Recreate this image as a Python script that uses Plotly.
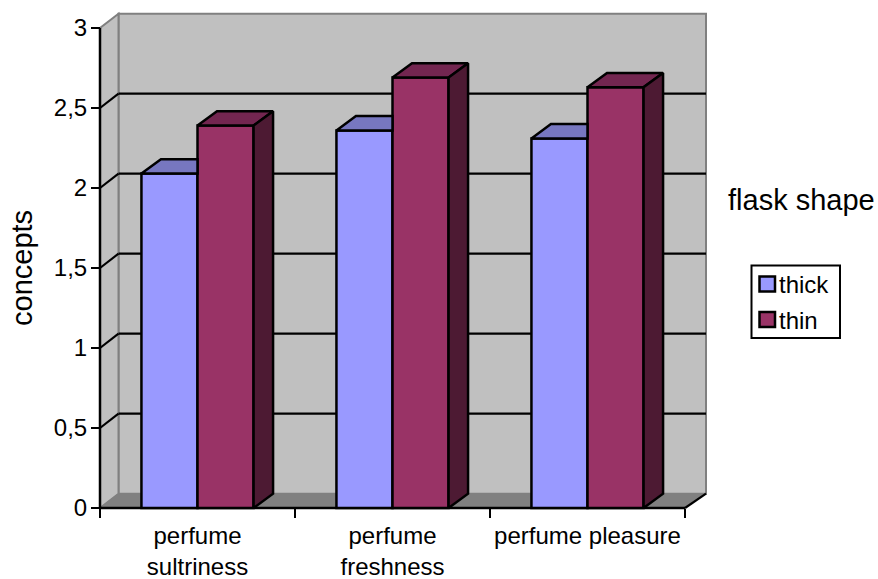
import plotly.graph_objects as go

categories = ["perfume<br>sultriness", "perfume<br>freshness", "perfume pleasure"]
series_names = ["thick", "thin"]
thick = [2.09, 2.36, 2.31]
thin = [2.39, 2.69, 2.63]
y_ticks = [0, 0.5, 1, 1.5, 2, 2.5, 3]
y_labels = ["0", "0,5", "1", "1,5", "2", "2,5", "3"]
x_pos = [0, 1, 2]
x_edges = [-0.5, 0.5, 1.5, 2.5]

# pixel scale of the plot: 195 px per category, 160 px per y unit
PX, PY = 195.0, 160.0
W, H = 878, 579
LEFT, RIGHT, TOP, BOTTOM = 90, 716, 4, 518
X0_PX, Y0_PX = 100, 508
xr = [-0.5 - (X0_PX - LEFT) / PX, -0.5 + (RIGHT - X0_PX) / PX]
yr = [-(BOTTOM - Y0_PX) / PY, (Y0_PX - TOP) / PY]
pw, ph = RIGHT - LEFT, BOTTOM - TOP


def paper_x(px):
    return (px - LEFT) / pw


def paper_y(py):
    return (BOTTOM - py) / ph


BAR_W = 0.2875
BAR_DX, BAR_DY = 19.5 / PX, 14.3 / PY
WALL_DX_L, WALL_DX_R, WALL_DY = 18.5 / PX, 21 / PX, 14.3 / PY
XL, XR = x_edges[0], x_edges[-1]
GRAY, WALL, FLOOR = "#808080", "#C0C0C0", "#808080"
C_THICK, C_THICK_TOP = "#9999FF", "#7777C0"
C_THIN, C_THIN_TOP, C_THIN_SIDE = "#993366", "#732650", "#4D1A33"
LW = 2.5

fig = go.Figure()
fig.add_bar(name=series_names[0], x=x_pos, y=thick, width=BAR_W, offset=-BAR_W, showlegend=False,
            marker=dict(color=C_THICK, line=dict(color="black", width=LW)))
fig.add_bar(name=series_names[1], x=x_pos, y=thin, width=BAR_W, offset=0, showlegend=False,
            marker=dict(color=C_THIN, line=dict(color="black", width=LW)))


def polys(rows):
    xs, ys = [], []
    for r in rows:
        for px, py in r + [r[0]]:
            xs.append(px)
            ys.append(py)
        xs.append(None)
        ys.append(None)
    return xs, ys


def face(rows, color):
    xs, ys = polys(rows)
    fig.add_scatter(x=xs, y=ys, mode="lines", fill="toself", fillcolor=color,
                    line=dict(color="black", width=LW), showlegend=False, hoverinfo="skip")


# visible top of the thick bars stops at the thin bar's front face
face([[(p - BAR_W, v), (p - BAR_W + BAR_DX, v + BAR_DY), (p, v + BAR_DY), (p, v)]
      for p, v in zip(x_pos, thick)], C_THICK_TOP)
face([[(p, v), (p + BAR_DX, v + BAR_DY), (p + BAR_W + BAR_DX, v + BAR_DY), (p + BAR_W, v)]
      for p, v in zip(x_pos, thin)], C_THIN_TOP)
face([[(p + BAR_W, 0), (p + BAR_W + BAR_DX, BAR_DY), (p + BAR_W + BAR_DX, v + BAR_DY), (p + BAR_W, v)]
      for p, v in zip(x_pos, thin)], C_THIN_SIDE)

shapes = []


def poly_path(pts):
    return "M" + "L".join(f"{a},{b}" for a, b in pts) + "Z"


top_val = y_ticks[-1]
bxl, bxr = XL + WALL_DX_L, XR + WALL_DX_R
# back wall, left wall, floor
shapes.append(dict(type="path", path=poly_path([(bxl, WALL_DY), (bxr, WALL_DY), (bxr, top_val + WALL_DY), (bxl, top_val + WALL_DY)]),
                   fillcolor=WALL, line=dict(color=GRAY, width=2), layer="below"))
shapes.append(dict(type="path", path=poly_path([(XL, 0), (bxl, WALL_DY), (bxl, top_val + WALL_DY), (XL, top_val)]),
                   fillcolor=WALL, line=dict(color=GRAY, width=2), layer="below"))
shapes.append(dict(type="path", path=poly_path([(XL, 0), (bxl, WALL_DY), (bxr, WALL_DY), (XR, 0)]),
                   fillcolor=FLOOR, line=dict(color=GRAY, width=1), layer="below"))
# grid lines on the walls
for t in y_ticks[1:-1]:
    shapes.append(dict(type="line", x0=bxl, x1=bxr, y0=t + WALL_DY, y1=t + WALL_DY,
                       line=dict(color="black", width=2.2), layer="below"))
    shapes.append(dict(type="line", x0=XL, x1=bxl, y0=t, y1=t + WALL_DY,
                       line=dict(color="black", width=2.2), layer="below"))
# floor right edge, axis lines
shapes.append(dict(type="line", x0=XR, x1=bxr, y0=0, y1=WALL_DY, line=dict(color="black", width=2.2), layer="below"))
shapes.append(dict(type="line", x0=XL, x1=XL, y0=0, y1=top_val, line=dict(color="black", width=2.5), layer="below"))
shapes.append(dict(type="line", x0=XL, x1=XR, y0=0, y1=0, line=dict(color="black", width=2.5), layer="below"))

# legend box with its swatches
shapes.append(dict(type="rect", xref="paper", yref="paper", x0=paper_x(751.5), x1=paper_x(840),
                   y0=paper_y(338), y1=paper_y(265.5), fillcolor="white", line=dict(color="black", width=2)))
swatch_colors = [C_THICK, C_THIN]
swatch_rows = [(276.5, 291.5), (312, 327)]
for col, (r0, r1) in zip(swatch_colors, swatch_rows):
    shapes.append(dict(type="rect", xref="paper", yref="paper", x0=paper_x(759.5), x1=paper_x(775),
                       y0=paper_y(r1), y1=paper_y(r0), fillcolor=col, line=dict(color="black", width=2.5)))

annotations = [
    dict(text="flask shape", xref="paper", yref="paper", showarrow=False,
         x=paper_x(801), y=paper_y(200), xanchor="center", yanchor="middle", font=dict(size=29)),
    dict(text="concepts", xref="paper", yref="paper", showarrow=False, textangle=-90,
         x=paper_x(22), y=paper_y(268), xanchor="center", yanchor="middle", font=dict(size=29)),
]
for name, row_y in zip(series_names, (284, 320)):
    annotations.append(dict(text=name, xref="paper", yref="paper", showarrow=False,
                            x=paper_x(780), y=paper_y(row_y), xanchor="left", yanchor="middle",
                            xshift=-3, font=dict(size=24)))

FONT = "Liberation Sans, Arial, sans-serif"
fig.update_layout(
    width=W, height=H,
    margin=dict(l=LEFT, r=W - RIGHT, t=TOP, b=H - BOTTOM, autoexpand=False),
    paper_bgcolor="white", plot_bgcolor="white",
    barmode="overlay", showlegend=False,
    font=dict(family=FONT, size=24, color="black"),
    shapes=shapes, annotations=annotations,
    xaxis=dict(range=xr, anchor="free", position=(BOTTOM - Y0_PX) / (BOTTOM - TOP),
               tickmode="array", tickvals=x_pos, ticktext=categories,
               ticks="outside", ticklen=6, tickcolor="rgba(0,0,0,0)",
               showgrid=False, zeroline=False, showline=False,
               tickfont=dict(size=24),
               minor=dict(tickmode="array", tickvals=x_edges, ticks="outside", ticklen=9,
                          tickwidth=2, tickcolor="black", showgrid=False)),
    yaxis=dict(range=yr, anchor="free", position=(X0_PX - LEFT) / (RIGHT - LEFT),
               tickmode="array", tickvals=y_ticks, ticktext=y_labels,
               ticks="outside", ticklen=9, tickwidth=2, tickcolor="black",
               showgrid=False, zeroline=False, showline=False,
               ticklabelstandoff=-1, tickfont=dict(size=24)),
)

fig.write_html("out.html", config=dict(displayModeBar=False),
               post_script="document.body.style.margin='0';")
